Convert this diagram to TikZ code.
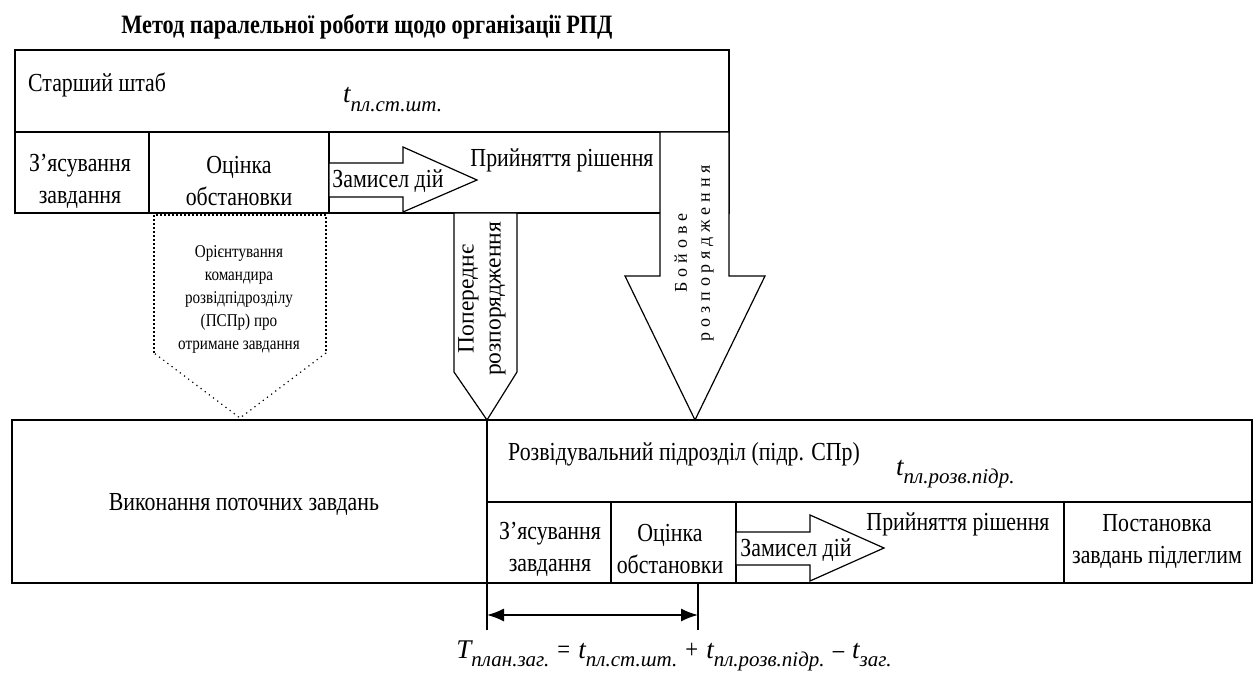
\documentclass[tikz,border=0pt]{standalone}
\usepackage{fontspec}
\setmainfont[FakeStretch=0.84]{Liberation Serif}
\newfontfamily\plainfont{Liberation Serif}
\newfontfamily\spacedfont[LetterSpace=27]{Liberation Serif}
\usetikzlibrary{arrows.meta}
\newcommand{\idx}[2]{{\plainfont\itshape #1\raisebox{-0.3em}{\fontsize{21}{21}\selectfont #2}}}
\tikzset{
  frame/.style={draw, line width=1.3pt},
  blockarrow/.style={draw, fill=white, line width=1.2pt, line join=miter},
  hint/.style={draw, line width=1.5pt, dash pattern=on 1.6pt off 2.4pt},
  lbl/.style={font=\fontsize{26}{32}\selectfont, inner sep=0pt, align=center},
  small/.style={font=\fontsize{18}{23}\selectfont, inner sep=0pt, align=center},
}
\begin{document}
\begin{tikzpicture}[x=1pt,y=-1pt]
    \useasboundingbox (0,0) rectangle (1254,674);
    %% Title
    \node[lbl, font=\fontsize{26.5}{28}\selectfont\bfseries] (title) at (367,27)
        {Метод паралельної роботи щодо організації РПД};
    %% Senior staff
    \draw[frame] (15,50) rectangle (729,213);
    \draw[frame] (15,132) -- (729,132);
    \foreach \x in {149,329} {
        \draw[frame] (\x,132) -- (\x,213);
    }
    \draw[blockarrow] (329,163) -- (403,163) -- (403,147) -- (477,180)
        -- (403,212) -- (403,197) -- (329,197) -- cycle;
    \node[lbl, anchor=base west] (staff) at (28,92) {Старший штаб};
    \node[lbl, anchor=base west, font=\fontsize{27}{32}\selectfont] (tstaff) at (343,103) {\idx{t}{пл.ст.шт.}};
    \node[lbl] (task) at (80,181) {З’ясування\\завдання};
    \node[lbl] (situation) at (239,181) {Оцінка\\обстановки};
    \node[lbl, anchor=base] (idea) at (388,188) {Замисел дій};
    \node[lbl, anchor=base] (decision) at (562,167) {Прийняття рішення};
    %% Orientation of the commander
    \draw[hint] (154,353) -- (154,215) -- (326,215) -- (326,353);
    \draw[hint, line width=1.2pt, dash pattern=on 1.2pt off 4pt] (326,353) -- (240,418) -- (154,353);
    \node[small] (orient) at (239,299)
        {Орієнтування\\командира\\розвідпідрозділу\\(ПСПр) про\\отримане завдання};
    %% Reconnaissance unit
    \draw[frame, line width=1.6pt] (12,420) rectangle (1252,583);
    \draw[frame] (487,420) -- (487,630);
    \draw[frame] (487,502) -- (1252,502);
    \foreach \x in {611,736,1064} {
        \draw[frame] (\x,502) -- (\x,583);
    }
    \draw[frame] (698,583) -- (698,630);
    \draw[blockarrow] (736,532) -- (810,532) -- (810,515) -- (884,548)
        -- (810,581) -- (810,565) -- (736,565) -- cycle;
    \node[lbl, anchor=base] (current) at (244,510) {Виконання поточних завдань};
    \node[lbl, anchor=base west] (unit) at (508,460) {Розвідувальний підрозділ (підр. СПр)};
    \node[lbl, anchor=base west, font=\fontsize{27}{32}\selectfont] (tunit) at (896,475) {\idx{t}{пл.розв.підр.}};
    \node[lbl] (utask) at (550,549) {З’ясування\\завдання};
    \node[lbl] (usituation) at (670,549) {Оцінка\\обстановки};
    \node[lbl, anchor=base] (uidea) at (796,556) {Замисел дій};
    \node[lbl, anchor=base] (udecision) at (958,530) {Прийняття рішення};
    \node[lbl] (subtasks) at (1157,541) {Постановка\\завдань підлеглим};
    %% Orders
    \draw[blockarrow] (454,213) -- (517,213) -- (517,372) -- (487,420)
        -- (454,372) -- cycle;
    \node[lbl, rotate=90, font=\fontsize{23.5}{27}\plainfont] (warning) at (482,299)
        {Попереднє\\розпорядження};
    \draw[blockarrow] (660,132) -- (729,132) -- (729,276) -- (765,276) -- (695,420)
        -- (625,276) -- (660,276) -- cycle;
    \node[lbl, rotate=90, font=\fontsize{18}{23}\spacedfont] (combat) at (694,253)
        {Бойове\\розпорядження};
    %% Planning time
    \coordinate (dimL) at (487,615);
    \coordinate (dimR) at (698,615);
    \draw[line width=1.6pt, {Latex[length=17pt,width=13pt]}-{Latex[length=17pt,width=13pt]}] (dimL) -- (dimR);
    \node[lbl, anchor=base, font=\fontsize{27}{32}\selectfont] (formula) at (674,658)
        {\idx{T}{план.заг.}\hspace{0.3em}=\hspace{0.3em}\idx{t}{пл.ст.шт.}\hspace{0.3em}+\hspace{0.3em}\idx{t}{пл.розв.підр.}\hspace{0.3em}–\hspace{0.3em}\idx{t}{заг.}};
\end{tikzpicture}
\end{document}
